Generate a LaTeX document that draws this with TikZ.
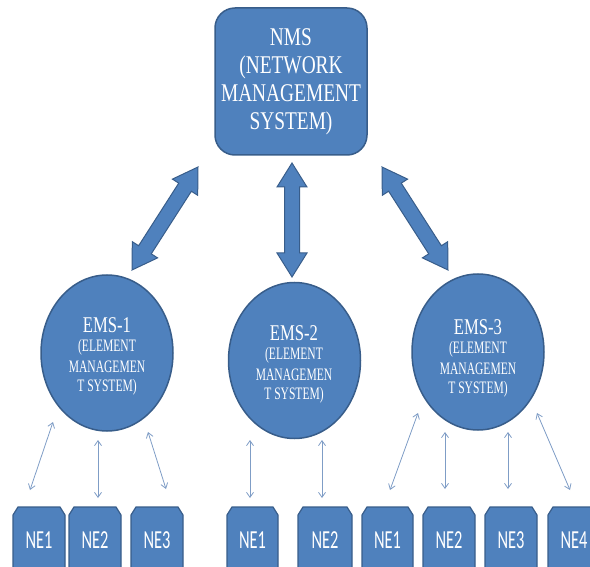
\documentclass[tikz,border=0pt]{standalone}
\usepackage{fontspec}
\setmainfont{Liberation Serif}
\newfontfamily\nefont{Carlito}
\usetikzlibrary{calc,arrows.meta,shapes.geometric}

\definecolor{boxfill}{HTML}{4F81BD}
\definecolor{boxline}{HTML}{385D8A}
\definecolor{linkblue}{HTML}{7F9DC6}

% thick two-headed block arrow between two named coordinates
\newcommand\blockarrow[2]{%
  \path ($(#1)!24pt!(#2)$) coordinate (h1) ($(#2)!24pt!(#1)$) coordinate (h2);
  \draw[blockstyle] (#1)
    -- ($(h1)!15pt!90:(#2)$) -- ($(h1)!7.5pt!90:(#2)$)
    -- ($(h2)!7.5pt!-90:(#1)$) -- ($(h2)!15pt!-90:(#1)$)
    -- (#2)
    -- ($(h2)!15pt!90:(#1)$) -- ($(h2)!7.5pt!90:(#1)$)
    -- ($(h1)!7.5pt!-90:(#2)$) -- ($(h1)!15pt!-90:(#2)$)
    -- cycle;}

% network element box: chamfered top corners, body running past the lower edge
\newcommand\nebox[4]{% name, left, right, label
  \draw[neshape] (#2,600) -- (#2,515) -- (#2+5,507) -- (#3-5,507) -- (#3,515) -- (#3,600);
  \node[netext] (#1) at ({(#2+#3)/2},540) {\scalebox{0.63}[1]{#4}};}

\tikzset{
  blockstyle/.style={fill=boxfill, draw=boxline, line width=1pt, line join=miter},
  neshape/.style={fill=boxfill, draw=boxline, line width=1.2pt},
  netext/.style={text=white, inner sep=0pt, font=\nefont\fontsize{26}{26}\selectfont},
  emsnode/.style={ellipse, fill=boxfill, draw=boxline, line width=1.5pt,
    minimum width=132pt, minimum height=156pt, inner sep=0pt},
  emstitle/.style={text=white, inner sep=0pt, font=\fontsize{22.5}{22.5}\selectfont},
  emssub/.style={text=white, inner sep=0pt, font=\fontsize{17.5}{17.5}\selectfont},
  link/.style={draw=linkblue, line width=0.8pt, {Straight Barb[length=5pt,width=7pt]}-{Straight Barb[length=5pt,width=7pt]}},
}

\begin{document}
\begin{tikzpicture}[x=1pt,y=-1pt]
\useasboundingbox (0,0) rectangle (590,567);
\clip (0,0) rectangle (590,567);

% top level
\node[draw=boxline, fill=boxfill, line width=1.5pt, rounded corners=20pt,
      minimum width=152pt, minimum height=147pt, inner sep=0pt, text=white,
      font=\fontsize{25.5}{28}\selectfont] (nms) at (291,81.5)
  {\raisebox{3pt}{\scalebox{0.76}[1]{\begin{tabular}{@{}c@{}}NMS\\(NETWORK\\MANAGEMENT\\SYSTEM)\end{tabular}}}};

% element management systems
\node[emsnode] (ems1) at (107,353) {};
\node[emsnode] (ems2) at (294.5,360.5) {};
\node[emsnode] (ems3) at (478,352) {};

\foreach \e/\n/\x/\y in {ems1/1/107/325, ems2/2/294/333, ems3/3/478/327}{
  \node[emstitle] (\e t) at (\x,\y) {\scalebox{0.74}[1]{EMS-\n}};
  \node[emssub] (\e a) at (\x,\y+22) {\scalebox{0.66}[1]{(ELEMENT}};
  \node[emssub] (\e b) at (\x,\y+42) {\scalebox{0.66}[1]{MANAGEMEN}};
  \node[emssub] (\e c) at (\x,\y+62) {\scalebox{0.66}[1]{T SYSTEM)}};
}

% block arrows between NMS and each EMS
\coordinate (l1) at (198,167); \coordinate (l2) at (132,270);
\coordinate (c1) at (292,163); \coordinate (c2) at (292,277);
\coordinate (r1) at (382,167); \coordinate (r2) at (448,270);
\blockarrow{l1}{l2}
\blockarrow{c1}{c2}
\blockarrow{r1}{r2}

% network elements
\nebox{ne11}{13}{65}{NE1}
\nebox{ne12}{69}{121}{NE2}
\nebox{ne13}{131}{183}{NE3}
\nebox{ne21}{227}{278}{NE1}
\nebox{ne22}{298}{352}{NE2}
\nebox{ne31}{362}{413}{NE1}
\nebox{ne32}{423}{475}{NE2}
\nebox{ne33}{485}{537}{NE3}
\nebox{ne34}{548}{600}{NE4}

% thin links between EMS and network elements
\coordinate (a1) at (53,422);  \coordinate (b1) at (30,490);
\coordinate (a2) at (98,440);  \coordinate (b2) at (98,498);
\coordinate (a3) at (148,432); \coordinate (b3) at (166,489);
\coordinate (a4) at (250,440); \coordinate (b4) at (250,498);
\coordinate (a5) at (322,440); \coordinate (b5) at (322,498);
\coordinate (a6) at (418,413); \coordinate (b6) at (390,490);
\coordinate (a7) at (445,432); \coordinate (b7) at (445,489);
\coordinate (a8) at (508,432); \coordinate (b8) at (508,489);
\coordinate (a9) at (537,413); \coordinate (b9) at (570,490);
\foreach \i in {1,...,9}{\draw[link] (a\i) -- (b\i);}
\end{tikzpicture}
\end{document}
